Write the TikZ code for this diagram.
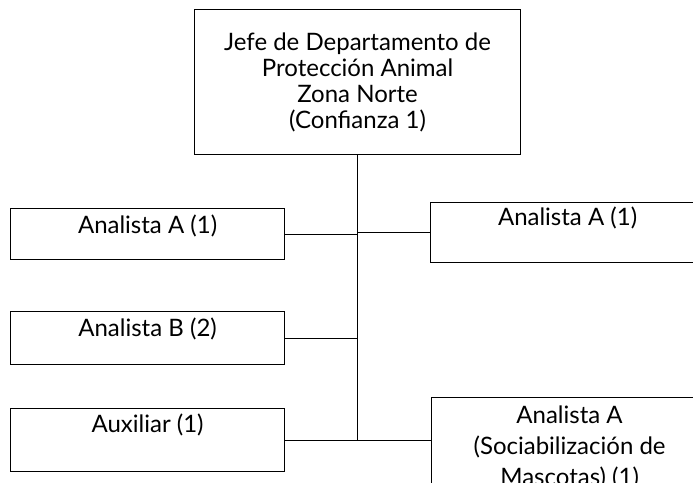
\documentclass[tikz,border=0pt]{standalone}
\usepackage{fontspec}
\setmainfont{Lato}
\usetikzlibrary{positioning}
\tikzset{
  orgBase/.style={
    draw=black,
    line width=1.2pt,
    inner sep=0pt,
    align=center,
    anchor=north west,
    font=\fontsize{24pt}{26pt}\selectfont
  },
  orgHead/.style={
    orgBase,
    minimum width=326pt,
    text height=119pt,
    text depth=26pt
  },
  orgLeft/.style={
    orgBase,
    minimum width=274pt
  },
  orgRight/.style={
    orgBase,
    minimum width=274pt
  },
  orgLine/.style={
    line width=1.2pt,
    color=black
  }
}
\begin{document}
\begin{tikzpicture}[x=1pt, y=-1pt]
        \useasboundingbox (0,0) rectangle (693,482);
        \clip (0,0) rectangle (693,482);
        \node (jefe) [orgHead] at (194,9) {
          Jefe de Departamento de\\
          Protección Animal\\
          Zona Norte\\
          (Confianza 1)
        };
        \node (anaIzq) [orgLeft, text height=25pt, text depth=26pt] at (10,208) {Analista A (1)};
        \node (anaB) [orgLeft, text height=25pt, text depth=28pt] at (10,311) {Analista B (2)};
        \node (aux) [orgLeft, text height=24pt, text depth=39pt] at (10,408) {Auxiliar (1)};
        \node (anaDer) [orgRight, text height=23pt, text depth=37pt] at (430,202) {Analista A (1)};
        \node (anaMasc) [orgRight, font=\fontsize{24pt}{31pt}\selectfont,
          text height=88pt, text depth=40pt, minimum width=276pt] at (431,397) {
          Analista A\\
          (Sociabilización de\\
          Mascotas) (1)
        };

        \draw [orgLine] (jefe.south) -- (jefe.south |- aux.east);
        \draw [orgLine] (anaIzq.east) -- (anaIzq.east -| jefe.south);
        \draw [orgLine] (anaDer.west) -- (anaDer.west -| jefe.south);
        \draw [orgLine] (anaB.east) -- (anaB.east -| jefe.south);
        \draw [orgLine] (aux.east) -- (aux.east -| anaMasc.west);
      \end{tikzpicture}
\end{document}
